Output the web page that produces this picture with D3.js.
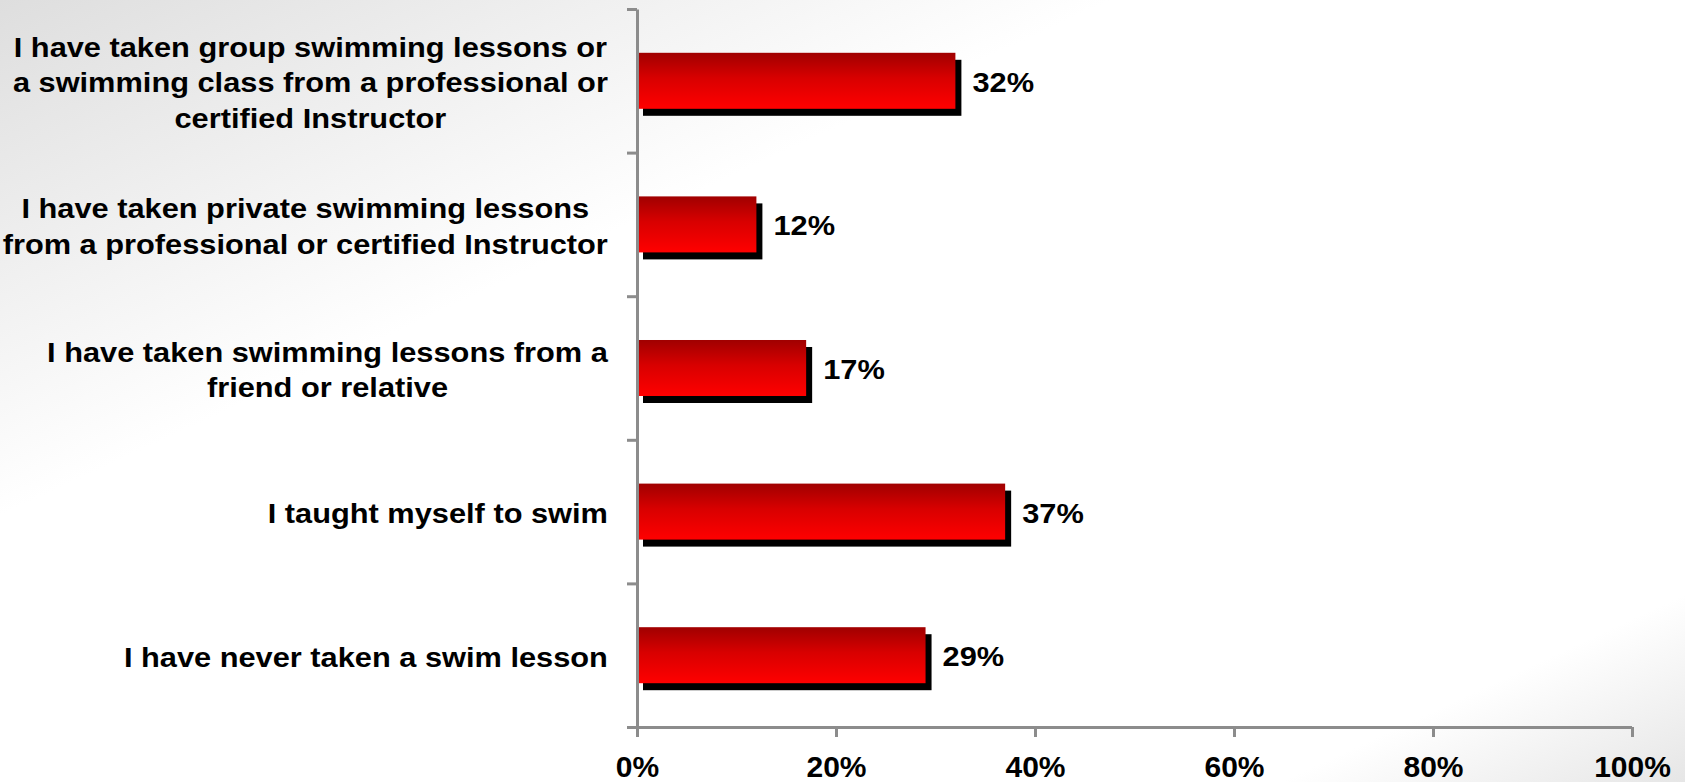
<!DOCTYPE html>
<html>
<head>
<meta charset="utf-8">
<script src="https://cdn.jsdelivr.net/npm/d3@7"></script>
<style>
  html, body { margin: 0; padding: 0; background: #fff; }
  svg { display: block; }
  text { font-family: "Liberation Sans", Arial, sans-serif; font-weight: bold; fill: #000; }
</style>
</head>
<body>
<script>
// ---- data ----
const categories = [
  ["I have taken group swimming lessons or", "a swimming class from a professional or", "certified Instructor"],
  ["I have taken private swimming lessons", "from a professional or certified Instructor"],
  ["I have taken swimming lessons from a", "friend or relative"],
  ["I taught myself to swim"],
  ["I have never taken a swim lesson"]
];
const values = [32, 12, 17, 37, 29];
const tickValues = [0, 20, 40, 60, 80, 100];
const tickLabels = ["0%", "20%", "40%", "60%", "80%", "100%"];

// ---- layout ----
const W = 1685, H = 782;
const svg = d3.select("body").append("svg").attr("width", W).attr("height", H);
const defs = svg.append("defs");

const bg = defs.append("linearGradient").attr("id", "bg")
  .attr("x1", 0).attr("y1", 0).attr("x2", 1).attr("y2", 1);
bg.append("stop").attr("offset", "0%").attr("stop-color", "#dedede");
bg.append("stop").attr("offset", "33%").attr("stop-color", "#ffffff");
bg.append("stop").attr("offset", "88%").attr("stop-color", "#ffffff");
bg.append("stop").attr("offset", "100%").attr("stop-color", "#e6e6e6");
svg.append("rect").attr("width", W).attr("height", H).attr("fill", "url(#bg)");

const red = defs.append("linearGradient").attr("id", "red")
  .attr("x1", 0).attr("y1", 0).attr("x2", 0).attr("y2", 1);
red.append("stop").attr("offset", "0%").attr("stop-color", "#a00000");
red.append("stop").attr("offset", "45%").attr("stop-color", "#d80000");
red.append("stop").attr("offset", "100%").attr("stop-color", "#ff0000");

const x = d3.scaleLinear().domain([0, 100]).range([637, 1632]);
const y = d3.scaleBand().domain(d3.range(categories.length)).range([9, 727]).padding(0);
const barH = y.bandwidth() * 0.39;
const yB = d3.scaleLinear().domain([0, categories.length]).range([9, 727]);

// bars (shadow + gradient bar)
const g = svg.append("g");
g.selectAll("rect.shadow").data(values).join("rect")
  .attr("class", "shadow")
  .attr("x", x(0) + 6)
  .attr("y", (d, i) => y(i) + y.bandwidth() / 2 - barH / 2 + 7)
  .attr("width", d => x(d) - x(0))
  .attr("height", barH)
  .attr("fill", "#000");
g.selectAll("rect.bar").data(values).join("rect")
  .attr("class", "bar")
  .attr("x", x(0))
  .attr("y", (d, i) => y(i) + y.bandwidth() / 2 - barH / 2)
  .attr("width", d => x(d) - x(0))
  .attr("height", barH)
  .attr("fill", "url(#red)");

// value labels
g.selectAll("g.val").data(values).join("g")
  .attr("class", "val")
  .attr("transform", (d, i) => `translate(${x(d) + 17},${y(i) + y.bandwidth() / 2 + 11}) scale(1.1,1)`)
  .append("text")
  .attr("font-size", 28)
  .text(d => d + "%");

// x axis
const xAxis = svg.append("g").attr("transform", "translate(0,727)")
  .call(d3.axisBottom(x).tickValues(tickValues).tickSize(10).tickSizeOuter(0)
    .tickFormat((d, i) => tickLabels[i]));
xAxis.select(".domain").attr("stroke", "#8c8c8c").attr("stroke-width", 3)
  .attr("d", `M${x(0) - 10},0.5H${x(100)}`);
xAxis.selectAll(".tick line").attr("stroke", "#8c8c8c").attr("stroke-width", 3);
xAxis.selectAll(".tick text").attr("font-size", 30).attr("y", 50).attr("dy", 0)
  .attr("font-family", "'Liberation Sans', Arial, sans-serif").attr("font-weight", "bold").attr("fill", "#000");

// y axis
const yAxis = svg.append("g").attr("transform", `translate(${x(0)},0)`)
  .call(d3.axisLeft(yB).tickValues(d3.range(categories.length + 1)).tickSize(10).tickSizeOuter(0).tickFormat(""));
yAxis.select(".domain").attr("stroke", "#8c8c8c").attr("stroke-width", 3);
yAxis.selectAll(".tick line").attr("stroke", "#8c8c8c").attr("stroke-width", 3);

// category labels: block right-aligned near the axis, lines centred within the block
const lineH = 35.5, sx = 1.14, rightEdge = x(0) - 29;
const lab = svg.append("g");
categories.forEach((lines, i) => {
  const cy = y(i) + y.bandwidth() / 2 + 2;
  const n = lines.length;
  const grp = lab.append("g");
  const texts = grp.selectAll("text").data(lines).join("text")
    .attr("x", 0)
    .attr("y", (d, j) => cy + (j - (n - 1) / 2) * lineH + 9.5)
    .attr("text-anchor", "middle")
    .attr("font-size", 27)
    .text(d => d);
  let maxW = 0;
  texts.each(function () { maxW = Math.max(maxW, this.getComputedTextLength()); });
  const cx = rightEdge - maxW * sx / 2;
  grp.attr("transform", `translate(${cx},0) scale(${sx},1)`);
});
</script>
</body>
</html>
